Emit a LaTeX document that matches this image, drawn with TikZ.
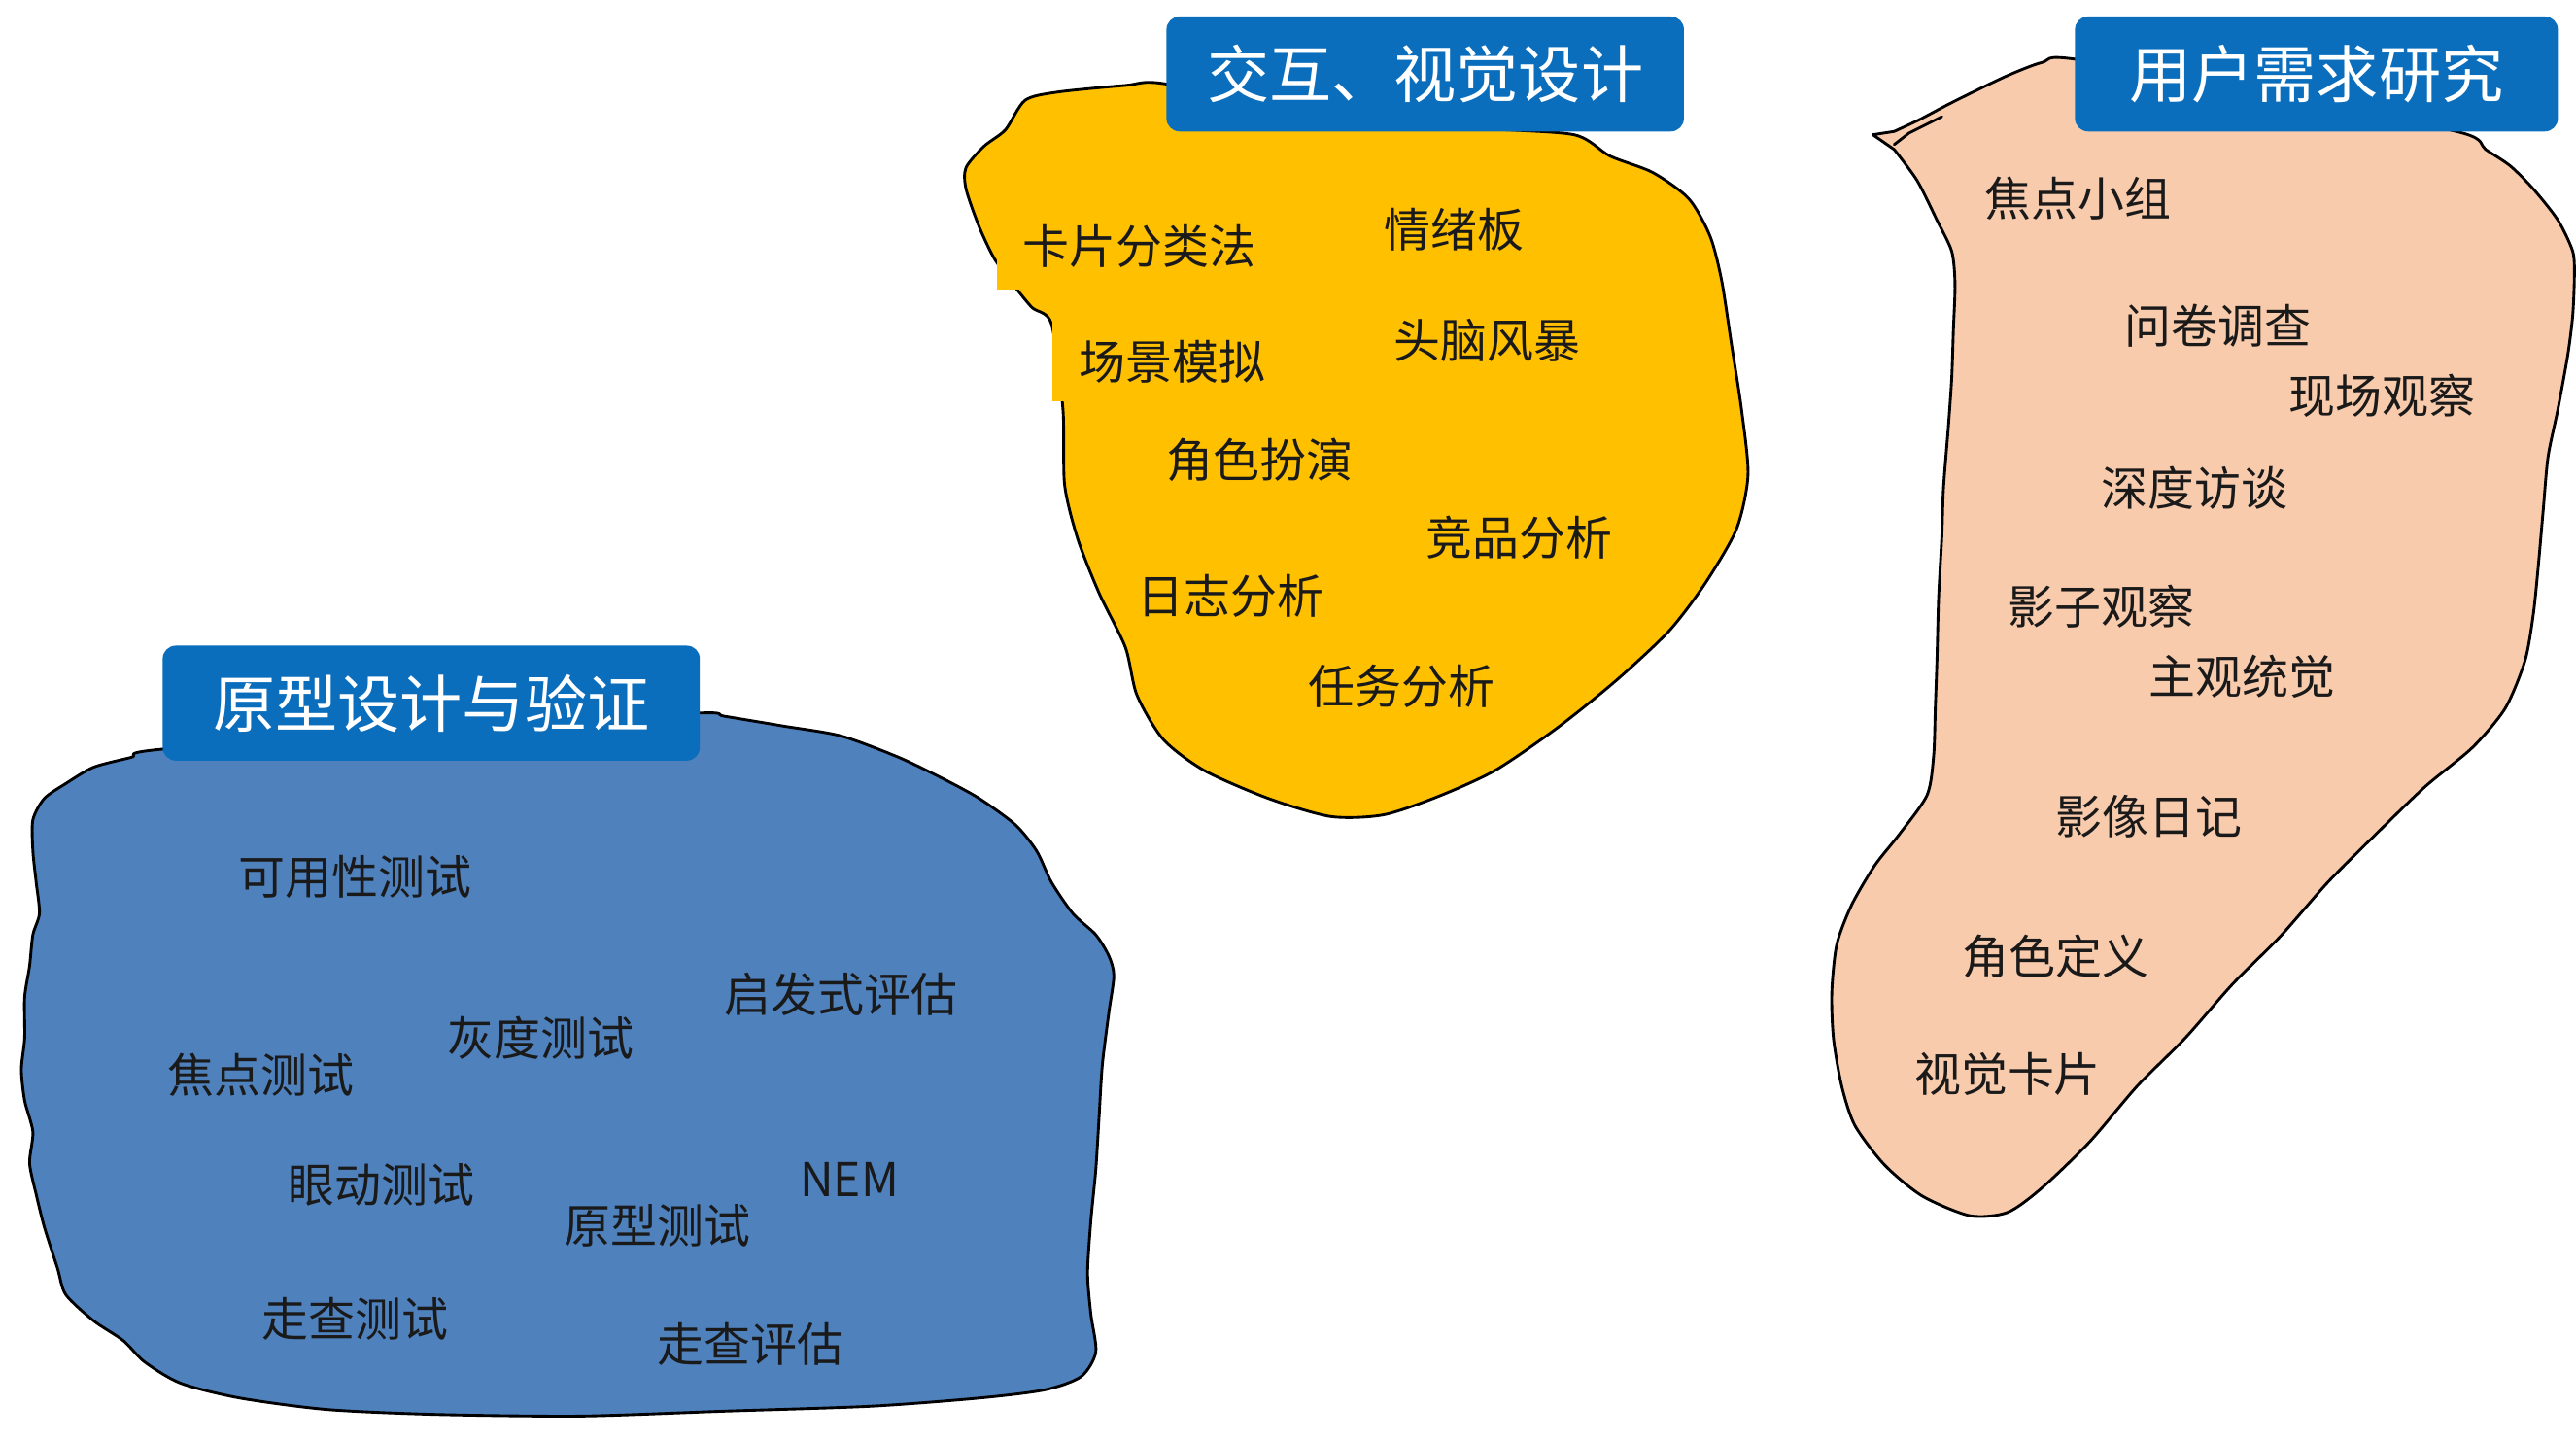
\documentclass[tikz,border=0pt]{standalone}
\usepackage{fontspec}
\newfontfamily\cjk{Noto Sans CJK SC}
\definecolor{titleblue}{HTML}{0A6EBD}
\definecolor{yellowc}{HTML}{FFC000}
\definecolor{peachc}{HTML}{F8CBAD}
\definecolor{bluec}{HTML}{4F81BD}
\definecolor{inkc}{HTML}{1A1A1A}
\begin{document}
\begin{tikzpicture}[x=0.1mm,y=-0.1mm,
  blob/.style={draw=black, line width=0.17mm, line join=round},
  titlebox/.style={fill=titleblue, rounded corners=0.8mm, minimum height=7mm, inner sep=0, text=white, font=\cjk\fontsize{10.8pt}{12pt}\selectfont},
  lbl/.style={inner sep=0, text=inkc, font=\cjk\fontsize{8.07pt}{10pt}\selectfont},
  lblbox/.style={lbl, fill=yellowc, inner xsep=1.6mm, anchor=west}]
\useasboundingbox (0,0) rectangle (1568,876);

% ---------- yellow blob ----------
\draw[blob, fill=yellowc] plot[smooth cycle, tension=0.45] coordinates {
 (709,51) (685,52) (644,56) (624,61) (612,79) (599,89) (588,102) (588,115)
 (596,138) (605,157) (615,171) (628,187) (640,197) (647,249) (648,295)
 (656,328) (669,361) (685,394) (692,423) (708,450) (733,469) (772,486)
 (810,497) (842,496) (875,485) (910,469) (948,443) (984,414) (1016,384)
 (1038,355) (1057,322) (1064,289) (1060,249) (1054,210) (1048,171)
 (1041,144) (1028,121) (1006,105) (980,95) (958,82) (900,78) (800,70)};

% ---------- peach blob ----------
\draw[blob, fill=peachc] (1140,82) -- plot[smooth, tension=0.45] coordinates {
 (1153,91) (1167,110) (1179,134) (1188,153) (1190,173)
 (1189,201) (1188,230) (1186,259) (1183,297) (1182,326) (1180,364)
 (1179,402) (1178,431) (1177,460) (1173,484) (1156,508) (1141,527)
 (1127,551) (1118,575) (1115,604) (1116,632) (1121,661) (1129,685)
 (1147,709) (1170,728) (1199,740) (1222,738) (1243,723) (1272,695)
 (1301,661) (1330,632) (1359,599) (1388,570) (1417,537) (1446,508)
 (1476,479) (1505,455) (1525,431) (1537,402) (1542,374) (1545,345)
 (1548,311) (1551,278) (1557,249) (1563,216) (1566,192) (1567,168)
 (1566,153) (1557,134) (1542,115) (1528,101) (1513,91) (1499,81) (1400,60)
 (1263,36) (1243,38) (1222,46) (1199,57) (1185,64) (1168,73) (1153,80)} -- cycle;
\draw[line width=0.17mm, line cap=round] (1153,88) -- (1162,81) -- (1172,76) -- (1182,71);

% ---------- blue blob ----------
\draw[blob, fill=bluec] plot[smooth cycle, tension=0.45] coordinates {
 (99,456) (80,461) (57,467) (40,477) (27,486) (20,499) (20,518) (22,537)
 (24,556) (20,569) (18,588) (15,607) (15,632) (13,651) (15,670) (20,689)
 (18,708) (22,727) (27,747) (35,772) (40,788) (57,804) (75,816) (88,829)
 (110,842) (146,851) (199,858) (265,861) (353,862) (441,859) (530,856)
 (596,851) (636,846) (658,838) (667,823) (664,800) (662,775) (664,743)
 (667,712) (669,680) (671,648) (675,616) (678,594) (675,582) (667,569)
 (653,556) (640,537) (631,518) (618,502) (596,486) (574,474) (547,461)
 (512,448) (477,442) (441,436) (426,434) (300,440)};

% ---------- title boxes ----------
\node[titlebox, minimum width=31.5mm] (t1) at (867.5,45) {交互、视觉设计};
\node[titlebox, minimum width=29.4mm] (t2) at (1410,45) {用户需求研究};
\node[titlebox, minimum width=32.7mm] (t3) at (262.5,428) {原型设计与验证};

% ---------- yellow labels ----------
\node[lblbox, minimum height=5.2mm] (y1) at (606,150) {卡片分类法};
\node[lbl] (y2) at (885,140) {情绪板};
\node[lblbox, minimum height=4.9mm] (y3) at (640,220) {场景模拟};
\node[lbl] (y4) at (905,207) {头脑风暴};
\node[lbl] (y5) at (767,280) {角色扮演};
\node[lbl] (y6) at (925,327) {竞品分析};
\node[lbl] (y7) at (749,363) {日志分析};
\node[lbl] (y8) at (853,418) {任务分析};

% ---------- peach labels ----------
\node[lbl] (p1) at (1265,121) {焦点小组};
\node[lbl] (p2) at (1350,198) {问卷调查};
\node[lbl] (p3) at (1450,241) {现场观察};
\node[lbl] (p4) at (1336,297) {深度访谈};
\node[lbl] (p5) at (1279,369) {影子观察};
\node[lbl] (p6) at (1365,412) {主观统觉};
\node[lbl] (p7) at (1308,497) {影像日记};
\node[lbl] (p8) at (1251,582) {角色定义};
\node[lbl] (p9) at (1222,654) {视觉卡片};

% ---------- blue labels ----------
\node[lbl] (b1) at (216,534) {可用性测试};
\node[lbl] (b2) at (512,605) {启发式评估};
\node[lbl] (b3) at (329,632) {灰度测试};
\node[lbl] (b4) at (159,654) {焦点测试};
\node[lbl] (b5) at (232,721) {眼动测试};
\node[lbl] (b6) at (517,718) {NEM};
\node[lbl] (b7) at (400,746) {原型测试};
\node[lbl] (b8) at (216,803) {走查测试};
\node[lbl] (b9) at (457,818) {走查评估};
\end{tikzpicture}
\end{document}
